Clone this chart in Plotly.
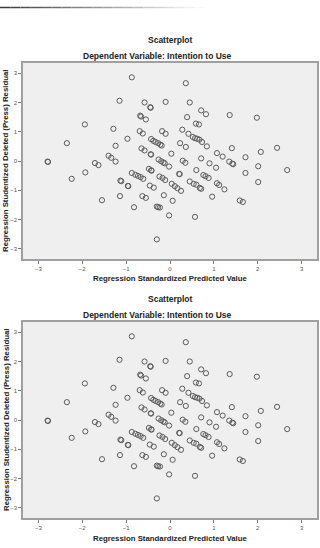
import plotly.graph_objects as go

# Data - same data in both panels
pred = [-0.87, 0.36, -1.15, -0.58, -0.45, -0.44, -0.10, 0.45, 0.71, 0.82, 1.36, 1.98,
        0.39, -0.68, -0.66, -0.55, 0.59, 0.66, -1.94, -1.29, -0.69, -0.62, -0.18, -0.10,
        0.28, 0.42, 0.52, 0.57, 0.62, 0.67, 0.73, -2.35, -0.97, -0.43, -0.38, -0.33,
        -0.27, -0.22, -0.19, -1.24, 0.23, 0.36, 0.84, 1.41, 2.44, -0.65, -0.58, -0.44,
        -0.43, 1.07, 1.20, 2.07, 0.03, 0.71, 1.72, -1.40, -1.34, -0.26, -0.20, -0.15,
        -0.12, 0.29, 0.35, -2.79, -2.78, -1.71, -1.63, -1.24, -0.02, 0.90, 1.05, 1.35,
        1.42, 1.44, 2.01, 2.67, -1.93, -0.48, -0.43, -0.42, 0.60, 1.72, -0.87, -0.79,
        -0.73, -0.67, -0.61, -0.24, -0.17, -0.11, 0.21, 0.22, 0.76, 0.81, 0.88, -2.24,
        2.01, -1.13, -1.11, 0.45, 0.54, 0.60, 0.68, 0.71, 0.04, 0.11, 0.17, 0.25,
        1.07, 1.12, 1.24, -0.46, -0.37, -0.96, -0.95, -1.14, -1.55, -0.14, 0.06, 0.96,
        1.59, 1.66, -0.63, -0.55, -0.82, -0.30, -0.27, -0.23, -0.02, 0.57, -0.30]
resid = [2.86, 2.66, 2.06, 2.00, 1.84, 1.82, 2.02, 2.00, 1.73, 1.60, 1.57, 1.48,
         1.50, 1.55, 1.52, 1.42, 1.28, 1.25, 1.25, 1.10, 1.02, 0.94, 1.02, 0.93,
         1.07, 0.93, 0.82, 0.78, 0.76, 0.73, 0.65, 0.61, 0.76, 0.75, 0.69, 0.65,
         0.61, 0.56, 0.53, 0.52, 0.61, 0.48, 0.50, 0.44, 0.45, 0.43, 0.36, 0.23,
         0.22, 0.27, 0.15, 0.31, 0.25, 0.09, 0.13, 0.18, 0.11, 0.05, -0.01, -0.05,
         -0.08, 0.01, -0.06, -0.02, -0.03, -0.07, -0.14, -0.02, -0.19, -0.08, -0.23, -0.02,
         -0.09, -0.11, -0.18, -0.31, -0.39, -0.27, -0.32, -0.33, -0.31, -0.41, -0.41, -0.47,
         -0.51, -0.55, -0.61, -0.53, -0.58, -0.65, -0.44, -0.45, -0.48, -0.52, -0.58, -0.61,
         -0.72, -0.67, -0.69, -0.70, -0.78, -0.81, -0.92, -0.95, -0.78, -0.86, -0.93, -1.02,
         -0.76, -0.82, -0.97, -0.84, -0.91, -0.85, -0.86, -1.20, -1.34, -1.17, -1.36, -1.22,
         -1.35, -1.40, -1.20, -1.26, -1.58, -1.56, -1.58, -1.59, -1.86, -1.91, -2.68]

tick_vals = [-3, -2, -1, 0, 1, 2, 3]
title_text = "Scatterplot"
subtitle_text = "Dependent Variable: Intention to Use"
x_title = "Regression Standardized Predicted Value"
y_title = "Regression Studentized Deleted (Press) Residual"

W, H = 320, 548
FONT = "Liberation Sans, Arial, sans-serif"

def py(px):
    return 1 - px / H

panels = [
    dict(top=63, bottom=259, t1=40, t2=56, xt=278),
    dict(top=322, bottom=518, t1=299, t2=315, xt=538),
]

fig = go.Figure()
annotations = []
for i, p in enumerate(panels):
    sfx = "" if i == 0 else str(i + 1)
    fig.add_trace(go.Scatter(
        x=pred, y=resid, mode="markers",
        xaxis="x" + sfx, yaxis="y" + sfx,
        marker=dict(symbol="circle-open", size=5.2, color="#5c5c5c",
                    line=dict(width=1, color="#5c5c5c")),
        showlegend=False, hoverinfo="x+y"))
    axcommon = dict(range=[-3.35, 3.35], tickvals=tick_vals, ticks="outside",
                    ticklen=3, tickwidth=1, tickcolor="#777",
                    tickfont=dict(size=6, color="#555", family=FONT),
                    showgrid=False, zeroline=False, showline=True, mirror=True,
                    linecolor="#a0a0a0", linewidth=1.5, fixedrange=True)
    fig.update_layout(**{
        "xaxis" + sfx: dict(domain=[23 / W, 317 / W], anchor="y" + sfx, **axcommon),
        "yaxis" + sfx: dict(domain=[py(p["bottom"]), py(p["top"])], anchor="x" + sfx,
                            **axcommon),
    })
    annotations += [
        dict(text="<b>%s</b>" % title_text, x=170 / W, y=py(p["t1"]), xref="paper",
             yref="paper", showarrow=False, font=dict(size=8.5, color="#222", family=FONT),
             xanchor="center", yanchor="middle"),
        dict(text="<b>%s</b>" % subtitle_text, x=157 / W, y=py(p["t2"]), xref="paper",
             yref="paper", showarrow=False, font=dict(size=8.5, color="#222", family=FONT),
             xanchor="center", yanchor="middle"),
        dict(text="<b>%s</b>" % x_title, x=170 / W, y=py(p["xt"]), xref="paper",
             yref="paper", showarrow=False, font=dict(size=7.8, color="#222", family=FONT),
             xanchor="center", yanchor="middle"),
        dict(text="<b>%s</b>" % y_title, x=6 / W, y=py((p["top"] + p["bottom"]) / 2),
             xref="paper", yref="paper", showarrow=False, textangle=-90,
             font=dict(size=7.8, color="#222", family=FONT),
             xanchor="center", yanchor="middle"),
    ]

# decorative fading rule at top
shapes = []
n = 20
for k in range(n):
    x0 = k * 205 / n
    x1 = (k + 1) * 205 / n
    f = k / (n - 1)
    c = int(55 + f * (245 - 55))
    shapes.append(dict(type="line", xref="paper", yref="paper",
                       x0=x0 / W, x1=x1 / W, y0=py(7.5), y1=py(7.5),
                       line=dict(color="rgb(%d,%d,%d)" % (c, c + 5, min(c + 15, 255)), width=1.5)))

fig.update_layout(width=W, height=H, margin=dict(l=0, r=0, t=0, b=0),
                  paper_bgcolor="white", plot_bgcolor="#efefef",
                  annotations=annotations, shapes=shapes,
                  font=dict(family=FONT))

fig.write_html("out.html", config={"displayModeBar": False})
